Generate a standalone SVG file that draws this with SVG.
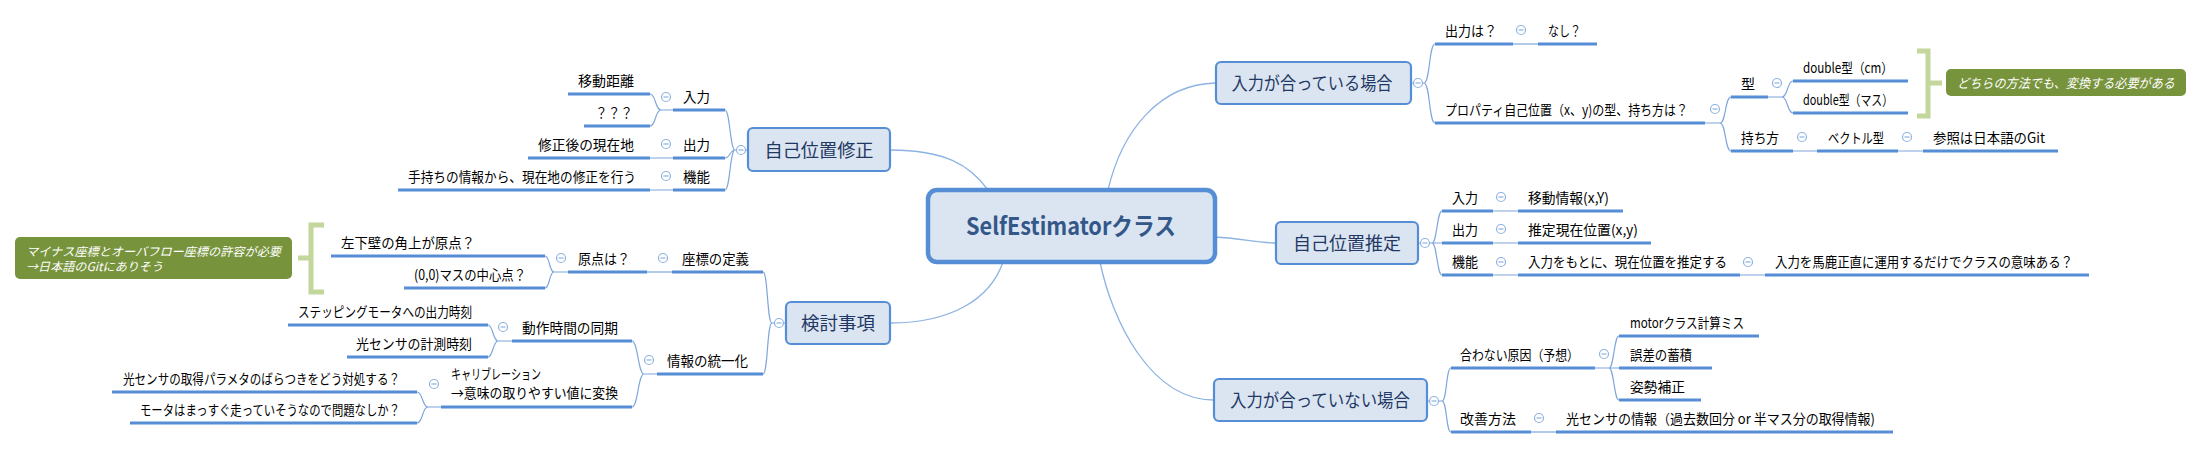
<svg xmlns="http://www.w3.org/2000/svg" xmlns:xlink="http://www.w3.org/1999/xlink" width="2202" height="449" viewBox="0 0 2202 449">
<style>
.ul{stroke:#558ed5;stroke-width:3.2;fill:none}
.cn{stroke:#7ea6dc;stroke-width:1.2;fill:none}
.mc{stroke:#8db3e2;stroke-width:1.3;fill:none}
.t{font-family:"Noto Sans CJK JP","Liberation Sans",sans-serif;font-size:14px;fill:#000}
.nt{font-family:"Noto Sans CJK JP","Liberation Sans",sans-serif;font-size:18px;fill:#1f3864;text-anchor:middle}
.ct{font-family:"Noto Sans CJK JP","Liberation Sans",sans-serif;font-size:24px;font-weight:bold;fill:#34578a;text-anchor:middle}
.nb{fill:#dbe5f1;stroke:#558ed5;stroke-width:2.2}
.cb{fill:#dbe5f1;stroke:#558ed5;stroke-width:4.5}
.co{fill:#77933c}
.cot{font-family:"Noto Sans CJK JP","Liberation Sans",sans-serif;font-style:italic;fill:#fff}
.br{stroke:#c3d69b;stroke-width:5;fill:none}
.tg circle{fill:#fff;stroke:#8db3e2;stroke-width:1.2}
.tg line{stroke:#8db3e2;stroke-width:1.2}
</style>
<defs>
<g id="tog" class="tg"><circle r="4.5"/><line x1="-2.5" y1="0" x2="2.5" y2="0"/></g>
</defs>
<rect width="2202" height="449" fill="#fff"/>

<g id="connectors">
<path class="mc" d="M890,150 C945,150 970,165 988,190"/>
<path class="mc" d="M890,323 C950,323 990,300 1003,262"/>
<path class="mc" d="M1216,83 C1160,84 1122,130 1108,190"/>
<path class="mc" d="M1215,237 C1240,238 1255,243 1276,243"/>
<path class="mc" d="M1214,400 C1150,400 1112,320 1100,262"/>

<path class="cn" d="M748,150 L735,150 M735,150 C730,150 730,110 725,110 M735,150 C730,150 730,158 725,158 M735,150 C730,150 730,190 725,190"/>
<path class="cn" d="M673,110 L661,110 M661,110 C655,110 656,94 650,94 M661,110 C655,110 656,126 650,126"/>
<path class="cn" d="M650,158 L673,158 M650,190 L673,190"/>
<path class="cn" d="M786,323 L772,323 M772,323 C767,323 768,272 763,272 M772,323 C767,323 768,374 763,374"/>
<path class="cn" d="M647,272 L672,272"/>
<path class="cn" d="M568,272 L554,272 M554,272 C549,272 550,256 545,256 M554,272 C549,272 550,288 545,288"/>
<path class="cn" d="M657,374 L644,374 M644,374 C638,374 638,341 632,341 M644,374 C638,374 638,407 632,407"/>
<path class="cn" d="M512,341 L498,341 M498,341 C493,341 493,325 488,325 M498,341 C493,341 493,357 488,357"/>
<path class="cn" d="M441,407 L428,407 M428,407 C422,407 423,392 417,392 M428,407 C422,407 423,423 417,423"/>

<path class="cn" d="M1411,83 L1424,83 M1424,83 C1430,83 1429,44 1435,44 M1424,83 C1430,83 1429,123 1435,123"/>
<path class="cn" d="M1513,44 L1538,44"/>
<path class="cn" d="M1705,123 L1720,123 M1720,123 C1726,123 1725,97 1731,97 M1720,123 C1726,123 1725,151 1731,151"/>
<path class="cn" d="M1768,97 L1782,97 M1782,97 C1788,97 1787,81 1793,81 M1782,97 C1788,97 1787,113 1793,113"/>
<path class="cn" d="M1793,151 L1817,151 M1898,151 L1923,151"/>
<path class="cn" d="M1418,243 L1432,243 M1432,243 C1437,243 1437,211 1442,211 M1432,243 L1442,243 M1432,243 C1437,243 1437,275 1442,275"/>
<path class="cn" d="M1493,211 L1518,211 M1493,243 L1518,243 M1493,275 L1518,275 M1740,275 L1765,275"/>
<path class="cn" d="M1427,401 L1442,401 M1442,401 C1447,401 1446,368 1451,368 M1442,401 C1447,401 1446,432 1451,432"/>
<path class="cn" d="M1595,368 L1609,368 M1609,368 C1614,368 1614,336 1619,336 M1609,368 L1619,368 M1609,368 C1614,368 1614,400 1619,400"/>
<path class="cn" d="M1531,432 L1556,432"/>
</g>

<g id="central">
<rect class="cb" x="928" y="190" width="287" height="72" rx="9"/>
<text class="ct" x="1071" y="235" textLength="210" lengthAdjust="spacingAndGlyphs">SelfEstimatorクラス</text>
</g>

<!-- LEFT: 自己位置修正 -->
<g id="n-jikoichishusei">
<rect class="nb" x="748" y="128" width="142" height="43" rx="5"/>
<text class="nt" x="819" y="156.5" textLength="109" lengthAdjust="spacingAndGlyphs">自己位置修正</text>
<use xlink:href="#tog" x="741" y="150"/>
</g>
<g id="n-shusei-nyuryoku">
<line class="ul" x1="673" y1="110" x2="725" y2="110"/>
<text class="t" x="683" y="102" textLength="27" lengthAdjust="spacingAndGlyphs">入力</text>
<use xlink:href="#tog" x="666" y="97"/>
</g>
<g id="n-idokyori">
<line class="ul" x1="568" y1="94" x2="650" y2="94"/>
<text class="t" x="578" y="86" textLength="56" lengthAdjust="spacingAndGlyphs">移動距離</text>
</g>
<g id="n-hatena">
<line class="ul" x1="584" y1="126" x2="650" y2="126"/>
<text class="t" x="595" y="118" textLength="38" lengthAdjust="spacingAndGlyphs">？？？</text>
</g>
<g id="n-shusei-shutsuryoku">
<line class="ul" x1="673" y1="158" x2="725" y2="158"/>
<text class="t" x="683" y="150" textLength="27" lengthAdjust="spacingAndGlyphs">出力</text>
<use xlink:href="#tog" x="666" y="144"/>
</g>
<g id="n-shuseigo">
<line class="ul" x1="528" y1="158" x2="650" y2="158"/>
<text class="t" x="538" y="150" textLength="96" lengthAdjust="spacingAndGlyphs">修正後の現在地</text>
</g>
<g id="n-shusei-kino">
<line class="ul" x1="673" y1="190" x2="725" y2="190"/>
<text class="t" x="683" y="182" textLength="27" lengthAdjust="spacingAndGlyphs">機能</text>
<use xlink:href="#tog" x="666" y="176"/>
</g>
<g id="n-temochi">
<line class="ul" x1="398" y1="190" x2="650" y2="190"/>
<text class="t" x="408" y="182" textLength="228" lengthAdjust="spacingAndGlyphs">手持ちの情報から、現在地の修正を行う</text>
</g>

<!-- LEFT: 検討事項 -->
<g id="n-kento">
<rect class="nb" x="786" y="302" width="104" height="42" rx="5"/>
<text class="nt" x="838" y="329.5" textLength="74" lengthAdjust="spacingAndGlyphs">検討事項</text>
<use xlink:href="#tog" x="779" y="323"/>
</g>
<g id="n-zahyo">
<line class="ul" x1="672" y1="272" x2="763" y2="272"/>
<text class="t" x="682" y="264" textLength="67" lengthAdjust="spacingAndGlyphs">座標の定義</text>
<use xlink:href="#tog" x="663" y="258"/>
</g>
<g id="n-genten">
<line class="ul" x1="568" y1="272" x2="647" y2="272"/>
<text class="t" x="578" y="264" textLength="52" lengthAdjust="spacingAndGlyphs">原点は？</text>
<use xlink:href="#tog" x="561" y="258"/>
</g>
<g id="n-hidarishita">
<line class="ul" x1="331" y1="256" x2="545" y2="256"/>
<text class="t" x="341" y="248" textLength="134" lengthAdjust="spacingAndGlyphs">左下壁の角上が原点？</text>
</g>
<g id="n-masu">
<line class="ul" x1="404" y1="288" x2="545" y2="288"/>
<text class="t" x="414" y="280" textLength="112" lengthAdjust="spacingAndGlyphs">(0,0)マスの中心点？</text>
</g>
<g id="n-bracket-left">
<path class="br" d="M324,225 L311,225 L311,292 L324,292 M311,258 L298,258"/>
<rect class="co" x="15" y="237" width="277" height="42" rx="5"/>
<text class="cot" x="26" y="256" font-size="12" textLength="255" lengthAdjust="spacingAndGlyphs">マイナス座標とオーバフロー座標の許容が必要</text>
<text class="cot" x="26" y="271" font-size="12" textLength="137" lengthAdjust="spacingAndGlyphs">→日本語のGitにありそう</text>
</g>
<g id="n-toitsu">
<line class="ul" x1="657" y1="374" x2="763" y2="374"/>
<text class="t" x="667" y="366" textLength="81" lengthAdjust="spacingAndGlyphs">情報の統一化</text>
<use xlink:href="#tog" x="649" y="360"/>
</g>
<g id="n-dosa">
<line class="ul" x1="512" y1="341" x2="632" y2="341"/>
<text class="t" x="522" y="333" textLength="96" lengthAdjust="spacingAndGlyphs">動作時間の同期</text>
<use xlink:href="#tog" x="503" y="327"/>
</g>
<g id="n-stepping">
<line class="ul" x1="288" y1="325" x2="488" y2="325"/>
<text class="t" x="298" y="317" textLength="174" lengthAdjust="spacingAndGlyphs">ステッピングモータへの出力時刻</text>
</g>
<g id="n-keisoku">
<line class="ul" x1="347" y1="357" x2="488" y2="357"/>
<text class="t" x="356" y="349" textLength="116" lengthAdjust="spacingAndGlyphs">光センサの計測時刻</text>
</g>
<g id="n-calib">
<line class="ul" x1="441" y1="407" x2="632" y2="407"/>
<text class="t" x="451" y="379" textLength="90" lengthAdjust="spacingAndGlyphs">キャリブレーション</text>
<text class="t" x="451" y="398" textLength="167" lengthAdjust="spacingAndGlyphs">→意味の取りやすい値に変換</text>
<use xlink:href="#tog" x="434" y="384"/>
</g>
<g id="n-baratsuki">
<line class="ul" x1="112" y1="392" x2="417" y2="392"/>
<text class="t" x="123" y="384" textLength="277" lengthAdjust="spacingAndGlyphs">光センサの取得パラメタのばらつきをどう対処する？</text>
</g>
<g id="n-motor-massugu">
<line class="ul" x1="130" y1="423" x2="417" y2="423"/>
<text class="t" x="140" y="415" textLength="260" lengthAdjust="spacingAndGlyphs">モータはまっすぐ走っていそうなので問題なしか？</text>
</g>

<!-- RIGHT: 入力が合っている場合 -->
<g id="n-atteiru">
<rect class="nb" x="1216" y="62" width="195" height="42" rx="5"/>
<text class="nt" x="1312" y="89.5" textLength="161" lengthAdjust="spacingAndGlyphs">入力が合っている場合</text>
<use xlink:href="#tog" x="1418" y="83"/>
</g>
<g id="n-shutsuryokuha">
<line class="ul" x1="1435" y1="44" x2="1513" y2="44"/>
<text class="t" x="1445" y="36" textLength="52" lengthAdjust="spacingAndGlyphs">出力は？</text>
<use xlink:href="#tog" x="1521" y="30"/>
</g>
<g id="n-nashi">
<line class="ul" x1="1538" y1="44" x2="1597" y2="44"/>
<text class="t" x="1548" y="36" textLength="33" lengthAdjust="spacingAndGlyphs">なし？</text>
</g>
<g id="n-property">
<line class="ul" x1="1435" y1="123" x2="1705" y2="123"/>
<text class="t" x="1445" y="115" textLength="243" lengthAdjust="spacingAndGlyphs">プロパティ自己位置（x、y)の型、持ち方は？</text>
<use xlink:href="#tog" x="1715" y="109"/>
</g>
<g id="n-kata">
<line class="ul" x1="1731" y1="97" x2="1768" y2="97"/>
<text class="t" x="1741" y="89">型</text>
<use xlink:href="#tog" x="1777" y="83"/>
</g>
<g id="n-double-cm">
<line class="ul" x1="1793" y1="81" x2="1908" y2="81"/>
<text class="t" x="1803" y="73" textLength="90" lengthAdjust="spacingAndGlyphs">double型（cm）</text>
</g>
<g id="n-double-masu">
<line class="ul" x1="1793" y1="113" x2="1908" y2="113"/>
<text class="t" x="1803" y="105" textLength="90" lengthAdjust="spacingAndGlyphs">double型（マス）</text>
</g>
<g id="n-bracket-right">
<path class="br" d="M1917,51 L1928,51 L1928,116 L1917,116 M1928,83 L1942,83"/>
<rect class="co" x="1946" y="69" width="240" height="27" rx="5"/>
<text class="cot" x="1957" y="87.5" font-size="13" textLength="218" lengthAdjust="spacingAndGlyphs">どちらの方法でも、変換する必要がある</text>
</g>
<g id="n-mochikata">
<line class="ul" x1="1731" y1="151" x2="1793" y2="151"/>
<text class="t" x="1741" y="143" textLength="38" lengthAdjust="spacingAndGlyphs">持ち方</text>
<use xlink:href="#tog" x="1802" y="137"/>
</g>
<g id="n-vector">
<line class="ul" x1="1817" y1="151" x2="1898" y2="151"/>
<text class="t" x="1828" y="143" textLength="56" lengthAdjust="spacingAndGlyphs">ベクトル型</text>
<use xlink:href="#tog" x="1907" y="137"/>
</g>
<g id="n-sansho">
<line class="ul" x1="1923" y1="151" x2="2058" y2="151"/>
<text class="t" x="1933" y="143" textLength="112" lengthAdjust="spacingAndGlyphs">参照は日本語のGit</text>
</g>

<!-- RIGHT: 自己位置推定 -->
<g id="n-suitei">
<rect class="nb" x="1276" y="222" width="142" height="42" rx="5"/>
<text class="nt" x="1347" y="249.5" textLength="108" lengthAdjust="spacingAndGlyphs">自己位置推定</text>
<use xlink:href="#tog" x="1425" y="243"/>
</g>
<g id="n-suitei-nyuryoku">
<line class="ul" x1="1442" y1="211" x2="1493" y2="211"/>
<text class="t" x="1452" y="203" textLength="26" lengthAdjust="spacingAndGlyphs">入力</text>
<use xlink:href="#tog" x="1501" y="197"/>
</g>
<g id="n-idojoho">
<line class="ul" x1="1518" y1="211" x2="1623" y2="211"/>
<text class="t" x="1528" y="203" textLength="81" lengthAdjust="spacingAndGlyphs">移動情報(x,Y)</text>
</g>
<g id="n-suitei-shutsuryoku">
<line class="ul" x1="1442" y1="243" x2="1493" y2="243"/>
<text class="t" x="1452" y="235" textLength="26" lengthAdjust="spacingAndGlyphs">出力</text>
<use xlink:href="#tog" x="1501" y="229"/>
</g>
<g id="n-suiteigenzai">
<line class="ul" x1="1518" y1="243" x2="1651" y2="243"/>
<text class="t" x="1528" y="235" textLength="110" lengthAdjust="spacingAndGlyphs">推定現在位置(x,y)</text>
</g>
<g id="n-suitei-kino">
<line class="ul" x1="1442" y1="275" x2="1493" y2="275"/>
<text class="t" x="1452" y="267" textLength="26" lengthAdjust="spacingAndGlyphs">機能</text>
<use xlink:href="#tog" x="1501" y="262"/>
</g>
<g id="n-nyuryokuwomotoni">
<line class="ul" x1="1518" y1="275" x2="1740" y2="275"/>
<text class="t" x="1528" y="267" textLength="199" lengthAdjust="spacingAndGlyphs">入力をもとに、現在位置を推定する</text>
<use xlink:href="#tog" x="1748" y="262"/>
</g>
<g id="n-bakashojiki">
<line class="ul" x1="1765" y1="275" x2="2089" y2="275"/>
<text class="t" x="1775" y="267" textLength="298" lengthAdjust="spacingAndGlyphs">入力を馬鹿正直に運用するだけでクラスの意味ある？</text>
</g>

<!-- RIGHT: 入力が合っていない場合 -->
<g id="n-atteinai">
<rect class="nb" x="1214" y="379" width="213" height="42" rx="5"/>
<text class="nt" x="1320" y="406.5" textLength="180" lengthAdjust="spacingAndGlyphs">入力が合っていない場合</text>
<use xlink:href="#tog" x="1434" y="401"/>
</g>
<g id="n-genin">
<line class="ul" x1="1451" y1="368" x2="1595" y2="368"/>
<text class="t" x="1460" y="360" textLength="119" lengthAdjust="spacingAndGlyphs">合わない原因（予想）</text>
<use xlink:href="#tog" x="1604" y="354"/>
</g>
<g id="n-motorclass">
<line class="ul" x1="1619" y1="336" x2="1759" y2="336"/>
<text class="t" x="1630" y="328" textLength="114" lengthAdjust="spacingAndGlyphs">motorクラス計算ミス</text>
</g>
<g id="n-gosa">
<line class="ul" x1="1619" y1="368" x2="1712" y2="368"/>
<text class="t" x="1630" y="360" textLength="62" lengthAdjust="spacingAndGlyphs">誤差の蓄積</text>
</g>
<g id="n-shisei">
<line class="ul" x1="1619" y1="400" x2="1701" y2="400"/>
<text class="t" x="1630" y="392" textLength="55" lengthAdjust="spacingAndGlyphs">姿勢補正</text>
</g>
<g id="n-kaizen">
<line class="ul" x1="1451" y1="432" x2="1531" y2="432"/>
<text class="t" x="1460" y="424" textLength="56" lengthAdjust="spacingAndGlyphs">改善方法</text>
<use xlink:href="#tog" x="1539" y="418"/>
</g>
<g id="n-hikarisensa">
<line class="ul" x1="1556" y1="432" x2="1893" y2="432"/>
<text class="t" x="1566" y="424" textLength="309" lengthAdjust="spacingAndGlyphs">光センサの情報（過去数回分 or 半マス分の取得情報)</text>
</g>
</svg>
